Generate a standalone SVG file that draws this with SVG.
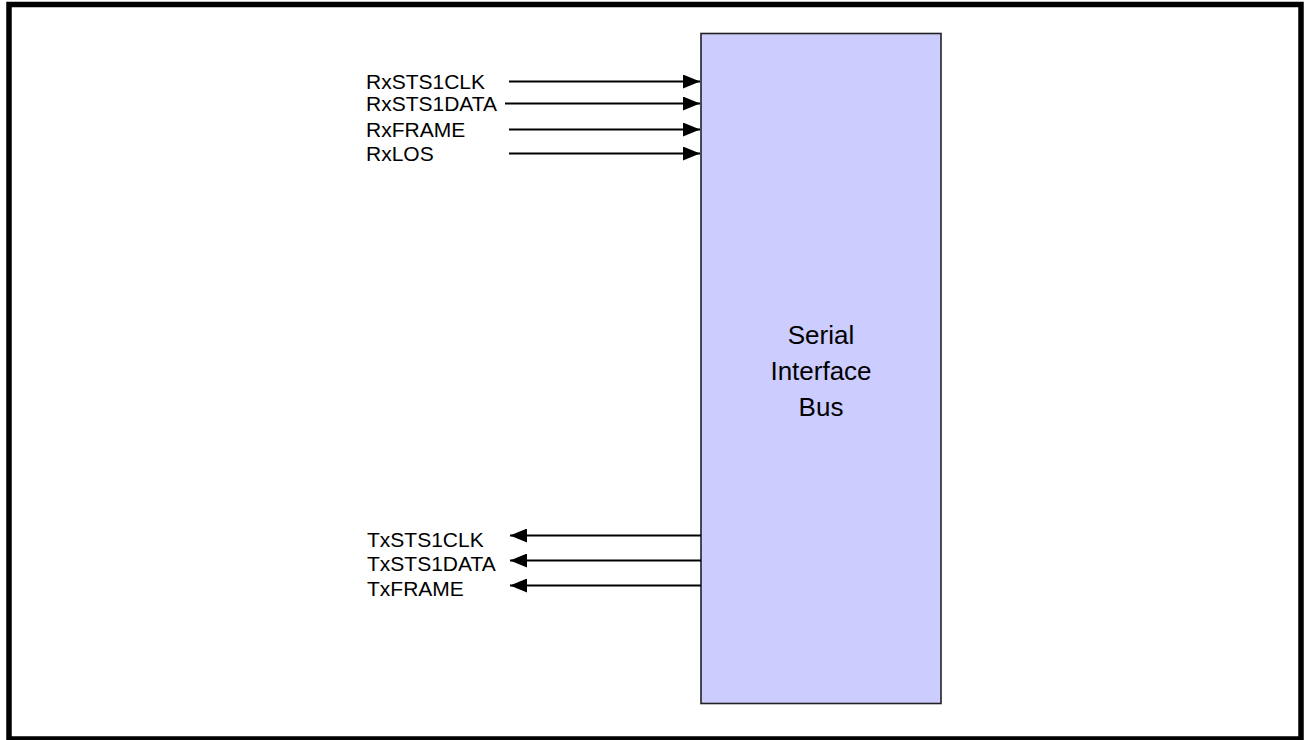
<svg xmlns="http://www.w3.org/2000/svg" width="1304" height="740" viewBox="0 0 1304 740">
<style>
.lbl{font-family:"Liberation Sans",Arial,sans-serif;font-size:21px;fill:#000}
.big{font-family:"Liberation Sans",Arial,sans-serif;font-size:26px;fill:#000;text-anchor:middle}
.wire{stroke:#000;stroke-width:1.8;fill:none}
</style>
<defs>
<marker id="ah" markerUnits="userSpaceOnUse" markerWidth="17" markerHeight="14" refX="17" refY="7" orient="auto">
<path d="M0,0 L17,7 L0,14 Z" fill="#000"/>
</marker>
</defs>
<rect id="frame" x="9" y="4.5" width="1292" height="734.5" fill="#fff" stroke="#000" stroke-width="5.5"/>
<g id="bus">
<rect x="701" y="33.5" width="240" height="670" fill="#CCCCFF" stroke="#222" stroke-width="1.6"/>
<text class="big" x="821" y="344">Serial</text>
<text class="big" x="821" y="380">Interface</text>
<text class="big" x="821" y="416">Bus</text>
</g>
<g id="labels">
<text class="lbl" x="366" y="89">RxSTS1CLK</text>
<text class="lbl" x="366" y="111">RxSTS1DATA</text>
<text class="lbl" x="366" y="137">RxFRAME</text>
<text class="lbl" x="366" y="161">RxLOS</text>
<text class="lbl" x="367" y="547">TxSTS1CLK</text>
<text class="lbl" x="367" y="571">TxSTS1DATA</text>
<text class="lbl" x="367" y="596">TxFRAME</text>
</g>
<g id="connectors">
<line class="wire" x1="509" y1="81.5" x2="700" y2="81.5" marker-end="url(#ah)"/>
<line class="wire" x1="505" y1="103.5" x2="700" y2="103.5" marker-end="url(#ah)"/>
<line class="wire" x1="509" y1="129.5" x2="700" y2="129.5" marker-end="url(#ah)"/>
<line class="wire" x1="509" y1="153.5" x2="700" y2="153.5" marker-end="url(#ah)"/>
<line class="wire" x1="701" y1="535.5" x2="510" y2="535.5" marker-end="url(#ah)"/>
<line class="wire" x1="701" y1="560.5" x2="510" y2="560.5" marker-end="url(#ah)"/>
<line class="wire" x1="701" y1="585.5" x2="510" y2="585.5" marker-end="url(#ah)"/>
</g>
</svg>
